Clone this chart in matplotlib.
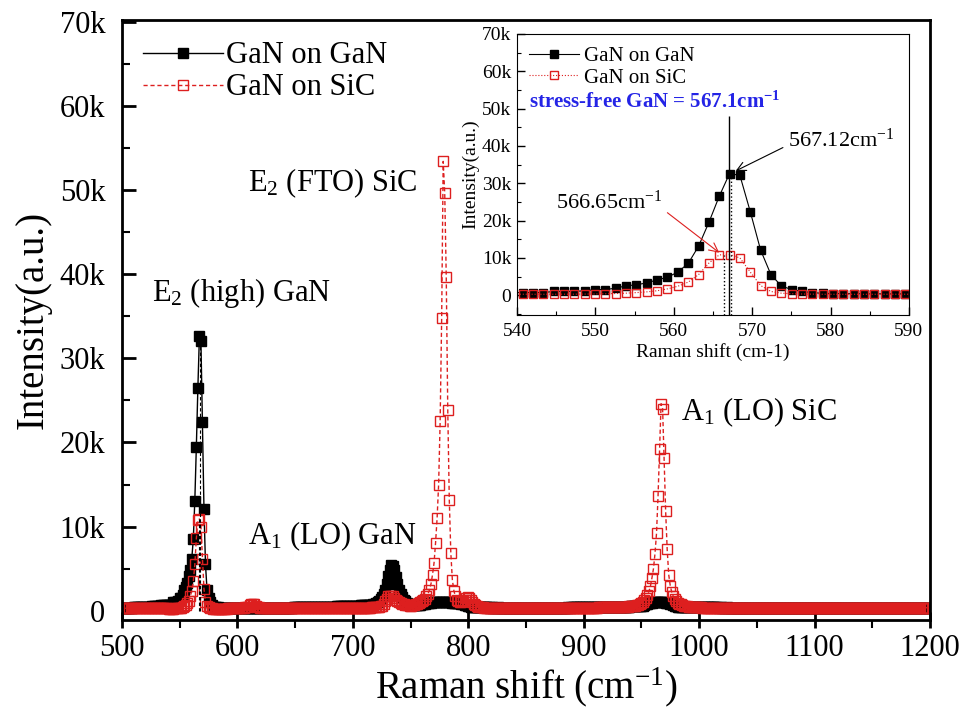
import numpy as np
import matplotlib
matplotlib.use('Agg')
import matplotlib.pyplot as plt
from matplotlib.ticker import MultipleLocator, FuncFormatter

plt.rcParams['font.family'] = 'Liberation Serif'
plt.rcParams['mathtext.fontset'] = 'custom'
plt.rcParams['mathtext.rm'] = 'Liberation Serif'
plt.rcParams['mathtext.it'] = 'Liberation Serif:italic'
plt.rcParams['mathtext.bf'] = 'Liberation Serif:bold'

RED = '#dd1f1f'
BLUE = '#2424e6'

# spectrometer channels: first raman shift (cm-1) and channel step
shift_start = 499.8
shift_step = 1.32

# intensities in units of 1k counts, one value per channel (499.8 ... 1199.4 cm-1)
gan_on_gan = [
    0.35, 0.35, 0.36, 0.36, 0.37, 0.37, 0.38, 0.38, 0.39, 0.40,
    0.40, 0.41, 0.42, 0.43, 0.44, 0.45, 0.46, 0.48, 0.49, 0.50,
    0.52, 0.53, 0.55, 0.57, 0.59, 0.61, 0.63, 0.65, 0.67, 0.69,
    0.70, 0.70, 0.70, 0.72, 1.00, 1.00, 1.00, 1.20, 1.50, 1.50,
    1.90, 2.50, 2.80, 3.30, 4.10, 4.80, 6.20, 8.50, 13.1, 19.5,   # E2(high)
    26.5, 32.6, 32.1, 22.4, 12.1, 5.50, 2.50, 1.50, 1.00, 0.70,
    0.50, 0.45, 0.42, 0.40, 0.38, 0.37, 0.36, 0.35, 0.35, 0.35,
    0.35, 0.34, 0.35, 0.35, 0.36, 0.35, 0.34, 0.35, 0.35, 0.35,
    0.35, 0.35, 0.36, 0.36, 0.37, 0.37, 0.36, 0.35, 0.35, 0.35,
    0.35, 0.34, 0.35, 0.35, 0.35, 0.35, 0.35, 0.35, 0.36, 0.35,
    0.35, 0.35, 0.35, 0.36, 0.36, 0.36, 0.37, 0.37, 0.37, 0.38,
    0.38, 0.38, 0.38, 0.39, 0.39, 0.39, 0.40, 0.40, 0.40, 0.41,
    0.41, 0.41, 0.42, 0.42, 0.42, 0.43, 0.43, 0.44, 0.44, 0.45,
    0.45, 0.46, 0.46, 0.47, 0.47, 0.48, 0.48, 0.49, 0.49, 0.50,
    0.50, 0.51, 0.51, 0.52, 0.52, 0.53, 0.54, 0.54, 0.55, 0.56,
    0.57, 0.57, 0.58, 0.59, 0.60, 0.61, 0.62, 0.63, 0.64, 0.65,
    0.66, 0.68, 0.70, 0.72, 0.74, 0.77, 0.81, 0.90, 1.00, 1.15,
    1.35, 1.60, 2.00, 2.50, 3.20, 4.10, 4.90, 5.40, 5.30, 4.80,   # A1(LO) GaN
    4.00, 3.20, 2.50, 2.00, 1.60, 1.30, 1.10, 0.95, 0.85, 0.78,
    0.72, 0.68, 0.66, 0.65, 0.66, 0.68, 0.72, 0.76, 0.80, 0.85,
    0.88, 0.92, 0.95, 0.98, 1.00, 1.02, 1.03, 1.05, 1.06, 1.07,
    1.08, 1.08, 1.07, 1.06, 1.05, 1.03, 1.00, 0.98, 0.96, 0.94,
    0.92, 0.90, 0.87, 0.83, 0.78, 0.72, 0.66, 0.60, 0.55, 0.50,
    0.47, 0.45, 0.43, 0.42, 0.41, 0.40, 0.40, 0.40, 0.39, 0.39,
    0.39, 0.39, 0.38, 0.39, 0.38, 0.38, 0.38, 0.39, 0.38, 0.38,
    0.38, 0.37, 0.38, 0.38, 0.37, 0.38, 0.38, 0.37, 0.37, 0.38,
    0.37, 0.37, 0.38, 0.37, 0.37, 0.37, 0.36, 0.37, 0.37, 0.37,
    0.37, 0.36, 0.37, 0.37, 0.36, 0.37, 0.37, 0.37, 0.36, 0.37,
    0.37, 0.37, 0.37, 0.38, 0.37, 0.37, 0.38, 0.37, 0.38, 0.38,
    0.38, 0.38, 0.38, 0.39, 0.38, 0.39, 0.39, 0.39, 0.39, 0.40,
    0.40, 0.40, 0.40, 0.41, 0.41, 0.41, 0.41, 0.42, 0.42, 0.42,
    0.42, 0.43, 0.43, 0.43, 0.44, 0.44, 0.44, 0.45, 0.45, 0.45,
    0.46, 0.46, 0.46, 0.47, 0.47, 0.47, 0.48, 0.48, 0.48, 0.49,
    0.49, 0.49, 0.50, 0.50, 0.51, 0.51, 0.52, 0.52, 0.53, 0.54,
    0.55, 0.58, 0.62, 0.70, 0.78, 0.85, 0.90, 0.94, 0.97, 0.99,
    1.00, 1.01, 1.02, 1.02, 1.02, 1.01, 1.00, 0.98, 0.95, 0.90,
    0.84, 0.76, 0.68, 0.60, 0.54, 0.50, 0.47, 0.45, 0.43, 0.42,
    0.42, 0.41, 0.41, 0.41, 0.40, 0.40, 0.40, 0.40, 0.40, 0.40,
    0.40, 0.39, 0.40, 0.39, 0.39, 0.39, 0.40, 0.39, 0.39, 0.39,
    0.39, 0.39, 0.38, 0.39, 0.38, 0.38, 0.38, 0.39, 0.38, 0.38,
    0.38, 0.38, 0.37, 0.38, 0.38, 0.37, 0.38, 0.37, 0.37, 0.38,
    0.37, 0.37, 0.37, 0.38, 0.37, 0.37, 0.37, 0.36, 0.37, 0.37,
    0.37, 0.36, 0.37, 0.36, 0.37, 0.36, 0.36, 0.37, 0.36, 0.36,
    0.36, 0.36, 0.36, 0.37, 0.36, 0.36, 0.36, 0.35, 0.36, 0.36,
    0.36, 0.35, 0.36, 0.36, 0.35, 0.36, 0.35, 0.36, 0.35, 0.35,
    0.36, 0.35, 0.35, 0.35, 0.36, 0.35, 0.35, 0.35, 0.35, 0.36,
    0.35, 0.35, 0.35, 0.35, 0.34, 0.35, 0.35, 0.35, 0.35, 0.34,
    0.35, 0.35, 0.34, 0.35, 0.35, 0.34, 0.35, 0.34, 0.35, 0.34,
    0.35, 0.34, 0.34, 0.35, 0.34, 0.34, 0.35, 0.34, 0.34, 0.34,
    0.34, 0.35, 0.34, 0.34, 0.34, 0.34, 0.34, 0.35, 0.34, 0.34,
    0.34, 0.34, 0.34, 0.33, 0.34, 0.34, 0.34, 0.34, 0.33, 0.34,
    0.34, 0.34, 0.33, 0.34, 0.34, 0.33, 0.34, 0.34, 0.33, 0.34,
    0.33, 0.34, 0.34, 0.33, 0.34, 0.33, 0.34, 0.33, 0.34, 0.33,
    0.33,
]

gan_on_sic = [
    0.30, 0.30, 0.31, 0.30, 0.30, 0.31, 0.30, 0.30, 0.29, 0.30,
    0.30, 0.30, 0.29, 0.30, 0.30, 0.31, 0.30, 0.30, 0.30, 0.30,
    0.29, 0.30, 0.30, 0.30, 0.29, 0.29, 0.30, 0.28, 0.28, 0.28,
    0.27, 0.26, 0.26, 0.26, 0.26, 0.27, 0.28, 0.30, 0.33, 0.38,
    0.45, 0.55, 0.70, 0.90, 1.20, 1.70, 2.40, 3.50, 5.50, 8.60,   # E2(high)
    10.8, 10.9, 10.0, 6.20, 2.60, 1.00, 0.55, 0.40, 0.32, 0.28,
    0.26, 0.25, 0.25, 0.25, 0.25, 0.25, 0.25, 0.25, 0.25, 0.26,
    0.27, 0.28, 0.28, 0.29, 0.30, 0.30, 0.31, 0.32, 0.34, 0.36,
    0.38, 0.40, 0.43, 0.50, 0.65, 0.80, 0.85, 0.80, 0.62, 0.48,
    0.40, 0.36, 0.34, 0.33, 0.32, 0.32, 0.32, 0.31, 0.31, 0.31,
    0.31, 0.31, 0.32, 0.31, 0.30, 0.31, 0.31, 0.32, 0.31, 0.30,
    0.30, 0.31, 0.30, 0.30, 0.31, 0.30, 0.30, 0.31, 0.30, 0.30,
    0.31, 0.30, 0.31, 0.31, 0.30, 0.31, 0.32, 0.31, 0.31, 0.32,
    0.31, 0.32, 0.32, 0.31, 0.32, 0.33, 0.32, 0.32, 0.33, 0.32,
    0.33, 0.33, 0.32, 0.33, 0.33, 0.34, 0.33, 0.34, 0.34, 0.33,
    0.34, 0.34, 0.34, 0.35, 0.34, 0.35, 0.35, 0.35, 0.36, 0.36,
    0.36, 0.37, 0.38, 0.38, 0.40, 0.42, 0.44, 0.46, 0.48, 0.50,
    0.55, 0.62, 0.80, 1.10, 1.40, 1.70, 1.80, 1.80, 1.70, 1.50,
    1.30, 1.10, 1.00, 0.90, 0.80, 0.75, 0.70, 0.66, 0.63, 0.61,
    0.62, 0.66, 0.72, 0.78, 0.85, 0.90, 1.00, 1.10, 1.25, 1.45,
    1.70, 2.00, 2.50, 3.20, 4.30, 5.70, 8.10, 11.0, 15.0, 22.5,   # E2(FTO) SiC
    34.8, 53.4, 49.7, 39.7, 23.8, 13.2, 6.90, 3.70, 2.40, 1.70,
    1.30, 1.10, 1.00, 1.00, 1.10, 1.30, 1.50, 1.60, 1.50, 1.30,
    1.00, 0.80, 0.65, 0.55, 0.50, 0.45, 0.42, 0.40, 0.38, 0.37,
    0.36, 0.36, 0.35, 0.35, 0.35, 0.34, 0.35, 0.34, 0.34, 0.34,
    0.34, 0.33, 0.34, 0.34, 0.33, 0.34, 0.33, 0.33, 0.34, 0.33,
    0.33, 0.33, 0.33, 0.32, 0.33, 0.33, 0.32, 0.33, 0.33, 0.32,
    0.33, 0.32, 0.32, 0.33, 0.32, 0.32, 0.32, 0.33, 0.32, 0.32,
    0.32, 0.33, 0.32, 0.32, 0.33, 0.33, 0.32, 0.33, 0.33, 0.33,
    0.33, 0.33, 0.34, 0.33, 0.34, 0.34, 0.34, 0.34, 0.35, 0.34,
    0.35, 0.35, 0.35, 0.35, 0.36, 0.36, 0.36, 0.37, 0.37, 0.37,
    0.38, 0.38, 0.38, 0.39, 0.39, 0.39, 0.40, 0.40, 0.40, 0.41,
    0.41, 0.42, 0.42, 0.43, 0.43, 0.44, 0.44, 0.45, 0.46, 0.47,
    0.48, 0.49, 0.50, 0.51, 0.52, 0.54, 0.56, 0.59, 0.63, 0.70,
    0.80, 0.90, 1.05, 1.25, 1.50, 1.85, 2.30, 2.90, 3.90, 5.00,
    6.80, 9.20, 13.6, 19.2, 24.6, 24.0, 18.1, 11.8, 7.30, 4.30,   # A1(LO) SiC
    3.00, 2.20, 1.70, 1.35, 1.10, 0.95, 0.85, 0.75, 0.68, 0.62,
    0.57, 0.53, 0.50, 0.47, 0.45, 0.43, 0.42, 0.41, 0.40, 0.39,
    0.39, 0.38, 0.38, 0.38, 0.37, 0.37, 0.37, 0.37, 0.36, 0.36,
    0.36, 0.36, 0.36, 0.35, 0.36, 0.35, 0.35, 0.35, 0.35, 0.35,
    0.35, 0.34, 0.35, 0.35, 0.34, 0.35, 0.34, 0.34, 0.35, 0.34,
    0.34, 0.34, 0.34, 0.35, 0.34, 0.34, 0.34, 0.33, 0.34, 0.34,
    0.34, 0.33, 0.34, 0.34, 0.33, 0.34, 0.33, 0.34, 0.33, 0.33,
    0.34, 0.33, 0.33, 0.34, 0.33, 0.33, 0.33, 0.34, 0.33, 0.33,
    0.33, 0.34, 0.33, 0.33, 0.33, 0.33, 0.34, 0.33, 0.33, 0.33,
    0.33, 0.33, 0.34, 0.33, 0.33, 0.33, 0.33, 0.33, 0.34, 0.33,
    0.33, 0.33, 0.33, 0.33, 0.33, 0.34, 0.33, 0.33, 0.33, 0.33,
    0.33, 0.34, 0.33, 0.33, 0.33, 0.33, 0.33, 0.34, 0.33, 0.33,
    0.33, 0.33, 0.34, 0.33, 0.34, 0.33, 0.34, 0.33, 0.34, 0.34,
    0.34, 0.33, 0.34, 0.34, 0.34, 0.34, 0.34, 0.34, 0.35, 0.34,
    0.34, 0.34, 0.35, 0.34, 0.35, 0.34, 0.35, 0.35, 0.34, 0.35,
    0.35, 0.35, 0.35, 0.34, 0.35, 0.35, 0.35, 0.35, 0.36, 0.35,
    0.35, 0.35, 0.36, 0.35, 0.35, 0.36, 0.35, 0.36, 0.35, 0.36,
    0.36,
]

# peak labels on the main plot: (text, raman shift, intensity k)
peak_labels = [('E$_2$ (high) GaN', 526, 37.8),
               ('E$_2$ (FTO) SiC', 609, 50.8),
               ('A$_1$ (LO) GaN', 609, 8.9),
               ('A$_1$ (LO) SiC', 984, 23.6)]

stress_free = 567.1      # cm-1, reference line
peak_gan_gan = 567.12    # fitted E2(high) positions
peak_gan_sic = 566.65

x_gan = shift_start + shift_step * np.arange(len(gan_on_gan))
x_sic = shift_start + shift_step * np.arange(len(gan_on_sic))

kfmt = FuncFormatter(lambda v, p: '0' if abs(v) < 1e-9 else '%dk' % round(v))

fig = plt.figure(figsize=(9.6, 7.12), dpi=100)

# ---------- main plot ----------
ax = fig.add_axes([0.127, 0.1292, 0.8417, 0.8427])
ax.plot(x_gan, gan_on_gan, color='black', lw=1, marker='s', ms=7,
        mfc='black', mec='black', label='GaN on GaN')
ax.plot(x_sic, gan_on_sic, color=RED, lw=1, ls=(0, (3, 2)), marker='s', ms=7,
        mfc='none', mec=RED, mew=1, label='GaN on SiC')
ax.vlines([peak_gan_gan + 0.2, peak_gan_sic - 0.2], 0, [max(gan_on_gan), max(gan_on_sic[30:70])],
          colors='black', linestyles=(0, (3, 2)), lw=0.8)

ax.set_xlim(500, 1200)
ax.set_ylim(-1.1, 70.2)
ax.xaxis.set_major_locator(MultipleLocator(100))
ax.xaxis.set_minor_locator(MultipleLocator(50))
ax.yaxis.set_major_locator(MultipleLocator(10))
ax.yaxis.set_minor_locator(MultipleLocator(5))
ax.yaxis.set_major_formatter(kfmt)
ax.tick_params(axis='x', which='major', direction='inout', length=12, width=2, labelsize=22, pad=4)
ax.tick_params(axis='x', which='minor', direction='out', length=6, width=1.5)
ax.tick_params(axis='y', which='major', direction='in', length=10, width=2, labelsize=22, pad=12)
ax.tick_params(axis='y', which='minor', direction='in', length=6, width=1.5)
for s in ax.spines.values():
    s.set_linewidth(2)
ax.set_xlabel('Raman shift (cm$^{-1}$)', fontsize=28, labelpad=2)
ax.set_ylabel('Intensity(a.u.)', fontsize=28, labelpad=6)

for txt, px, py in peak_labels:
    ax.text(px, py, txt, fontsize=22, ha='left', va='center')

ax.legend(loc='upper left', bbox_to_anchor=(0.0, 1.0), frameon=False, fontsize=22,
          handlelength=2.6, handletextpad=0.1, labelspacing=0.1, borderaxespad=0.3)

# ---------- inset ----------
axin = fig.add_axes([0.5385, 0.5576, 0.4083, 0.3947])
axin.plot(x_gan, gan_on_gan, color='black', lw=0.8, marker='s', ms=5.5,
          mfc='black', mec='black', label='GaN on GaN')
axin.plot(x_sic, gan_on_sic, color=RED, lw=0.8, ls=':', marker='s', ms=5.5,
          mfc='none', mec=RED, mew=1, label='GaN on SiC')
axin.set_xlim(540, 590)
axin.set_ylim(-5.3, 70)
axin.vlines(stress_free, -5.3, 48, colors='black', lw=1)
axin.vlines([peak_gan_gan + 0.2, peak_gan_sic - 0.25], -5.3, [32.6, 10.9],
            colors='black', linestyles=':', lw=1)
axin.xaxis.set_major_locator(MultipleLocator(10))
axin.xaxis.set_minor_locator(MultipleLocator(5))
axin.yaxis.set_major_locator(MultipleLocator(10))
axin.yaxis.set_minor_locator(MultipleLocator(5))
axin.yaxis.set_major_formatter(kfmt)
axin.tick_params(which='major', direction='in', length=6, width=1, labelsize=14)
axin.tick_params(which='minor', direction='in', length=3, width=0.8)
axin.tick_params(axis='x', pad=6)
axin.tick_params(axis='y', pad=4)
axin.set_xlabel('Raman shift (cm-1)', fontsize=14, labelpad=2)
axin.set_ylabel('Intensity(a.u.)', fontsize=14, labelpad=2)

axin.text(541.5, 51.7, 'stress-free GaN = 567.1cm$^{\\mathbf{-1}}$', color=BLUE,
          fontsize=15, fontweight='bold', va='center')
axin.annotate('567.12cm$^{-1}$', xy=(567.9, 33.3), xytext=(574.6, 41.5), fontsize=16,
              va='center', arrowprops=dict(arrowstyle='->', color='black', lw=0.8,
                                           shrinkA=2, shrinkB=0, relpos=(0, 0.3)))
axin.annotate('566.65cm$^{-1}$', xy=(565.8, 11.4), xytext=(545.0, 25.0), fontsize=16,
              va='center', arrowprops=dict(arrowstyle='->', color=RED, lw=0.8,
                                           shrinkA=2, shrinkB=0, relpos=(1, 0.2)))
axin.legend(loc='upper left', frameon=False, fontsize=15, handlelength=2.4,
            handletextpad=0.2, labelspacing=0.1, borderaxespad=0.2)

fig.savefig('out.png', dpi=100)
